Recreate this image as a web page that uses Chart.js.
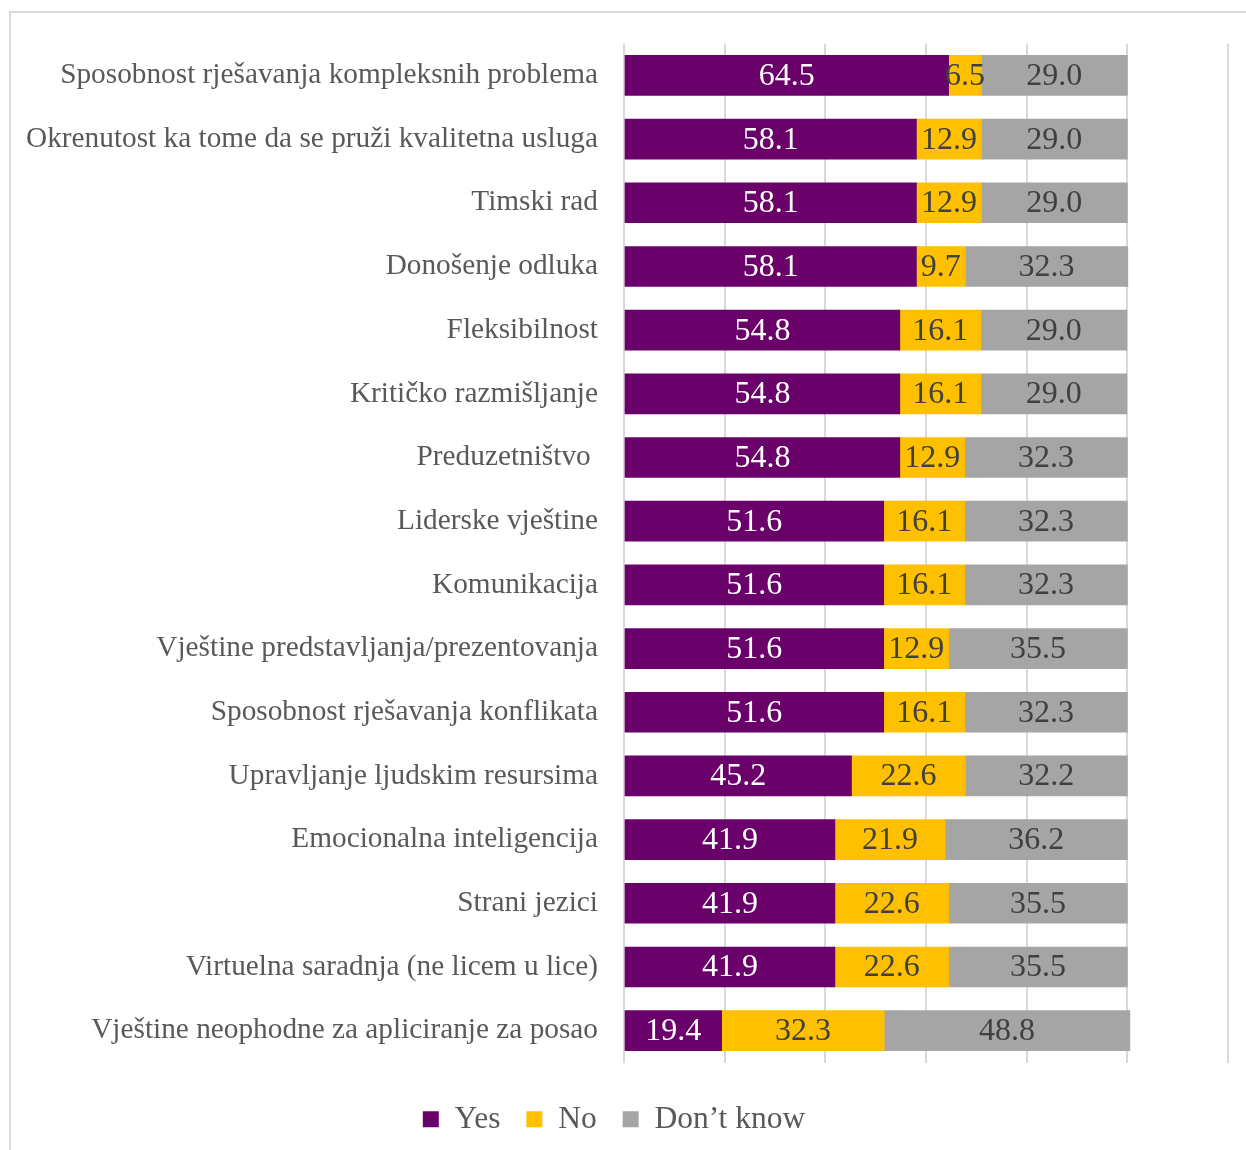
<!DOCTYPE html>
<html>
<head>
<meta charset="utf-8">
<style>
  html, body { margin: 0; padding: 0; background: #fff; overflow: hidden; }
  #frame { position: absolute; left: 9px; top: 11px; width: 1300px; height: 1200px;
           border-left: 2px solid #d9d9d9; border-top: 2px solid #d9d9d9; }
  #chart { position: absolute; left: 0; top: 0; }
</style>
</head>
<body>
<div id="frame"></div>
<canvas id="chart" width="1246" height="1146"></canvas>
<script src="https://cdn.jsdelivr.net/npm/chart.js@4/dist/chart.umd.min.js"></script>
<script>
var categories = [
  "Sposobnost rješavanja kompleksnih problema",
  "Okrenutost ka tome da se pruži kvalitetna usluga",
  "Timski rad",
  "Donošenje odluka",
  "Fleksibilnost",
  "Kritičko razmišljanje",
  "Preduzetništvo ",
  "Liderske vještine",
  "Komunikacija",
  "Vještine predstavljanja/prezentovanja",
  "Sposobnost rješavanja konflikata",
  "Upravljanje ljudskim resursima",
  "Emocionalna inteligencija",
  "Strani jezici",
  "Virtuelna saradnja (ne licem u lice)",
  "Vještine neophodne za apliciranje za posao"
];
var yesValues  = [64.5, 58.1, 58.1, 58.1, 54.8, 54.8, 54.8, 51.6, 51.6, 51.6, 51.6, 45.2, 41.9, 41.9, 41.9, 19.4];
var noValues   = [6.5, 12.9, 12.9, 9.7, 16.1, 16.1, 12.9, 16.1, 16.1, 12.9, 16.1, 22.6, 21.9, 22.6, 22.6, 32.3];
var dkValues   = [29.0, 29.0, 29.0, 32.3, 29.0, 29.0, 32.3, 32.3, 32.3, 35.5, 32.3, 32.2, 36.2, 35.5, 35.5, 48.8];
var xTicks = [0, 20, 40, 60, 80, 100, 120];

var serif = "'Liberation Serif', 'Times New Roman', serif";

// value labels in the middle of each segment
var segmentLabels = {
  id: 'segmentLabels',
  afterDatasetsDraw: function(chart) {
    var ctx = chart.ctx;
    ctx.save();
    ctx.font = '32px ' + serif;
    ctx.textAlign = 'center';
    ctx.textBaseline = 'middle';
    chart.data.datasets.forEach(function(ds, i) {
      var meta = chart.getDatasetMeta(i);
      meta.data.forEach(function(bar, j) {
        ctx.fillStyle = ds.labelColor;
        ctx.fillText(ds.data[j].toFixed(1), (bar.x + bar.base) / 2, bar.y + 1);
      });
    });
    ctx.restore();
  }
};

new Chart(document.getElementById('chart'), {
  type: 'bar',
  data: {
    labels: categories,
    datasets: [
      { label: 'Yes', data: yesValues, backgroundColor: '#6a006a', labelColor: '#ffffff' },
      { label: 'No', data: noValues, backgroundColor: '#ffc000', labelColor: '#404040' },
      { label: 'Don\u2019t know', data: dkValues, backgroundColor: '#a5a5a5', labelColor: '#404040' }
    ]
  },
  options: {
    indexAxis: 'y',
    responsive: false,
    animation: false,
    barThickness: 40,
    layout: { padding: { left: 0, right: 18, top: 38, bottom: 1 } },
    scales: {
      x: {
        stacked: true,
        min: 0,
        max: 120,
        afterBuildTicks: function(scale) {
          scale.ticks = xTicks.map(function(v) { return { value: v }; });
        },
        afterFit: function(scale) { scale.height = 15; },
        ticks: { display: false },
        grid: { color: '#d9d9d9', lineWidth: 2, drawTicks: false },
        border: { display: false }
      },
      y: {
        stacked: true,
        afterFit: function(scale) { scale.width = 624; },
        ticks: { color: '#595959', padding: 26, font: { family: serif, size: 29.3 } },
        grid: { display: false, drawTicks: false },
        border: { display: false }
      }
    },
    plugins: {
      tooltip: { enabled: false },
      legend: {
        position: 'bottom',
        labels: {
          boxWidth: 16,
          boxHeight: 16,
          padding: 26,
          color: '#595959',
          font: { family: serif, size: 31.5 }
        }
      }
    }
  },
  plugins: [segmentLabels]
});
</script>
</body>
</html>
